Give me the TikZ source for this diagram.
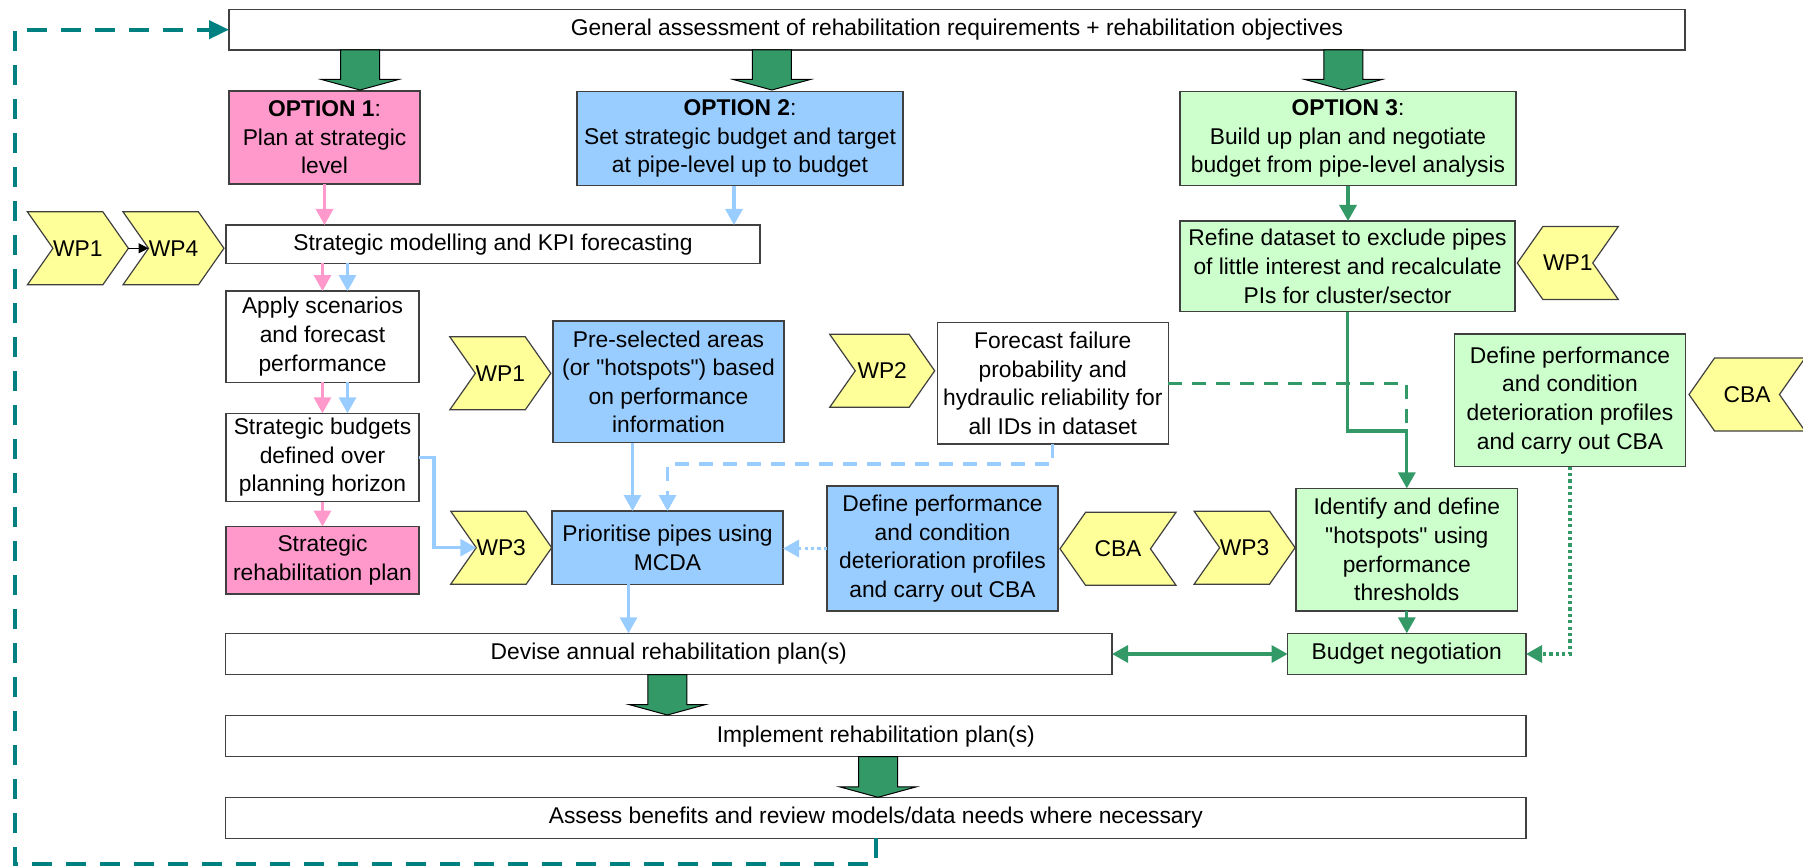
\documentclass[tikz,border=0pt]{standalone}
\usepackage{fontspec}
\setmainfont{Liberation Sans}[Ligatures=TeXOff]
\usetikzlibrary{arrows.meta,shapes.symbols}

\definecolor{boxline}{HTML}{404040}
\definecolor{pinkfill}{HTML}{FF99CC}
\definecolor{bluefill}{HTML}{99CCFF}
\definecolor{greenfill}{HTML}{CCFFCC}
\definecolor{wpfill}{HTML}{FFFF99}
\definecolor{darkgreen}{HTML}{339966}
\definecolor{loopteal}{HTML}{008080}

\newcommand{\diagfont}{\fontsize{11.4pt}{14.3pt}\selectfont}
% block arrow: centre x, top y, tip y
\newcommand{\blockarr}[3]{%
  \draw[blockarrow] (#1-19.5,#2) -- (#1+19.5,#2) -- (#1+19.5,#3-10.5) -- (#1+38.5,#3-10.5) -- (#1,#3) -- (#1-38.5,#3-10.5) -- (#1-19.5,#3-10.5) -- cycle ;}

\tikzset{
  every picture/.style={line width=0.6pt},
  stepbox/.style={draw=boxline, line width=0.6pt, align=center, inner sep=1pt, outer sep=0pt, font=\diagfont},
  whitebox/.style={stepbox, fill=white},
  pinkbox/.style={stepbox, fill=pinkfill},
  bluebox/.style={stepbox, fill=bluefill},
  greenbox/.style={stepbox, fill=greenfill},
  wpbase/.style={signal, signal pointer angle=110, draw=boxline, fill=wpfill, inner sep=0pt, outer sep=0pt, minimum width=50.5pt, minimum height=36.5pt, font=\diagfont},
  wpright/.style={wpbase, signal to=east, signal from=west},
  wpleft/.style={wpbase, signal to=west, signal from=east},
  pinkarr/.style={draw=pinkfill, line width=1.6pt, -{Triangle[width=8.5pt,length=8pt]}},
  bluearr/.style={draw=bluefill, line width=1.6pt, -{Triangle[width=8.5pt,length=8pt]}},
  greenline/.style={draw=darkgreen, line width=1.6pt},
  greenarr/.style={greenline, -{Triangle[width=8.5pt,length=8pt]}},
  greendbl/.style={greenline, {Triangle[width=8.5pt,length=8pt]}-{Triangle[width=8.5pt,length=8pt]}},
  dashline/.style={dash pattern=on 7pt off 5pt},
  dotline/.style={dash pattern=on 1.6pt off 1.6pt},
  blockarrow/.style={draw=black, line width=0.5pt, fill=darkgreen},
  looparr/.style={draw=loopteal, line width=2pt, dash pattern=on 10pt off 7pt, -{Triangle[width=9pt,length=10pt]}},
  wparr/.style={draw=black, line width=0.6pt, -{Triangle[width=5pt,length=5pt]}}
}

\begin{document}
\begin{tikzpicture}[x=0.5pt,y=0.5pt,yscale=-1]
\useasboundingbox (0,0) rectangle (1803,866);

% Text Node
\node[whitebox, minimum width=728pt, minimum height=20.35pt] (gen) at (957,29.7) {General assessment of rehabilitation requirements + rehabilitation objectives};
% Text Node
\node[pinkbox, minimum width=95.5pt, minimum height=46.5pt] (opt1) at (324.5,137.5) {\textbf{OPTION 1}:\\Plan at strategic\\level};
% Text Node
\node[bluebox, minimum width=163pt, minimum height=47pt] (opt2) at (740,138.7) {\textbf{OPTION 2}:\\Set strategic budget and target\\at pipe-level up to budget};
% Text Node
\node[greenbox, minimum width=168pt, minimum height=47pt] (opt3) at (1348,138.7) {\textbf{OPTION 3}:\\Build up plan and negotiate\\budget from pipe-level analysis};
% Text Node
\node[whitebox, minimum width=267pt, minimum height=19.2pt] (strat) at (493,244.2) {Strategic modelling and KPI forecasting};
% Text Node
\node[whitebox, minimum width=96.5pt, minimum height=45.7pt] (apply) at (322.5,336.7) {Apply scenarios\\and forecast\\performance};
% Text Node
\node[whitebox, minimum width=96.5pt, minimum height=44.2pt] (budgets) at (322.5,457.5) {Strategic budgets\\defined over\\planning horizon};
% Text Node
\node[pinkbox, minimum width=96.5pt, minimum height=33.7pt] (splan) at (322.5,560.3) {Strategic\\rehabilitation plan};
% Text Node
\node[bluebox, minimum width=115.5pt, minimum height=60.8pt] (presel) at (668.5,381.8) {Pre-selected areas\\(or "hotspots") based\\on performance\\information};
% Text Node
\node[bluebox, minimum width=115.5pt, minimum height=36.7pt] (prior) at (667.5,547.7) {Prioritise pipes using\\MCDA};
% Text Node
\node[whitebox, minimum width=115.3pt, minimum height=60.8pt] (forecast) at (1052.8,383.2) {Forecast failure\\probability and\\hydraulic reliability for\\all IDs in dataset};
% Text Node
\node[bluebox, minimum width=115.5pt, minimum height=62.5pt] (defB) at (942.5,548.5) {Define performance\\and condition\\deterioration profiles\\and carry out CBA};
% Text Node
\node[greenbox, minimum width=167.5pt, minimum height=45.3pt] (refine) at (1347.5,266.3) {Refine dataset to exclude pipes\\of little interest and recalculate\\PIs for cluster/sector};
% Text Node
\node[greenbox, minimum width=115.5pt, minimum height=66.3pt] (defG) at (1570,400.3) {Define performance\\and condition\\deterioration profiles\\and carry out CBA};
% Text Node
\node[greenbox, minimum width=110.8pt, minimum height=61.3pt] (ident) at (1406.8,549.7) {Identify and define\\"hotspots" using\\performance\\thresholds};
% Text Node
\node[whitebox, minimum width=443.2pt, minimum height=20.7pt] (devise) at (668.8,654) {Devise annual rehabilitation plan(s)};
% Text Node
\node[greenbox, minimum width=119.2pt, minimum height=20.7pt] (budget) at (1406.8,654) {Budget negotiation};
% Text Node
\node[whitebox, minimum width=650.2pt, minimum height=20.5pt] (impl) at (875.8,736.2) {Implement rehabilitation plan(s)};
% Text Node
\node[whitebox, minimum width=650.2pt, minimum height=20.5pt] (assess) at (875.8,817.8) {Assess benefits and review models/data needs where necessary};

% Work packages
\node[wpright] (wp1a) at (77.9,248.3) {WP1};
\node[wpright] (wp4) at (173.5,248.3) {WP4};
\node[wpright] (wp1b) at (500.3,373.3) {WP1};
\node[wpright] (wp3a) at (501.2,547.7) {WP3};
\node[wpright, minimum width=52.5pt] (wp2) at (882.2,370.8) {WP2};
\node[wpleft, minimum width=58pt] (cbaa) at (1118,548.8) {CBA};
\node[wpright] (wp3b) at (1244.6,547.7) {WP3};
\node[wpleft] (wp1c) at (1567.8,263) {WP1};
\node[wpleft, minimum width=58pt] (cbab) at (1747,394.5) {CBA};

% Block arrows
\blockarr{360}{50}{90}
\blockarr{771.8}{50}{90}
\blockarr{1343.4}{50}{90}
\blockarr{667.3}{674.7}{715}
\blockarr{878}{756.7}{797.3}

%Straight Lines
\draw[wparr] (wp1a.east) -- (wp4.west);
\draw[pinkarr] (opt1.south) -- (opt1.south |- strat.north);
\coordinate (o2out) at ([xshift=-3pt]opt2.south);
\draw[bluearr] (o2out) -- (o2out |- strat.north);
\draw[pinkarr] (apply.north |- strat.south) -- (apply.north);
\coordinate (ablue) at ([xshift=12.5pt]apply.north);
\draw[bluearr] (ablue |- strat.south) -- (ablue);
\draw[pinkarr] (apply.south) -- (budgets.north);
\coordinate (bblue) at ([xshift=12.5pt]budgets.north);
\draw[bluearr] (bblue |- apply.south) -- (bblue);
\draw[pinkarr] (budgets.south) -- (splan.north);
\draw[bluearr] (budgets.east) -- ++(15,0) |- (wp3a.west);
\coordinate (pout) at ([xshift=-18pt]presel.south);
\draw[bluearr] (pout) -- (pout |- prior.north);
\draw[bluearr, dashline] (forecast.south) -- ++(0,20) -| (prior.north);
\draw[bluearr, dotline] (defB.west) -- (defB.west -| prior.east);
\coordinate (prout) at ([xshift=-19.5pt]prior.south);
\draw[bluearr] (prout) -- (prout |- devise.north);

\draw[greenarr] (opt3.south) -- (opt3.south |- refine.north);
\coordinate (gjoin) at (1406.8,431);
\draw[greenline, dashline] (forecast.east) -| (gjoin);
\draw[greenarr] (refine.south) |- (gjoin) -- (ident.north);
\draw[greenarr] (ident.south) -- (budget.north);
\draw[greendbl] (devise.east) -- (budget.west);
\draw[greenarr, dotline] (defG.south) |- (budget.east);

% Feedback loop
\coordinate (loopturn) at (14.5,864);
\draw[looparr] (assess.south) |- (loopturn) |- (gen.west);

\end{tikzpicture}
\end{document}
